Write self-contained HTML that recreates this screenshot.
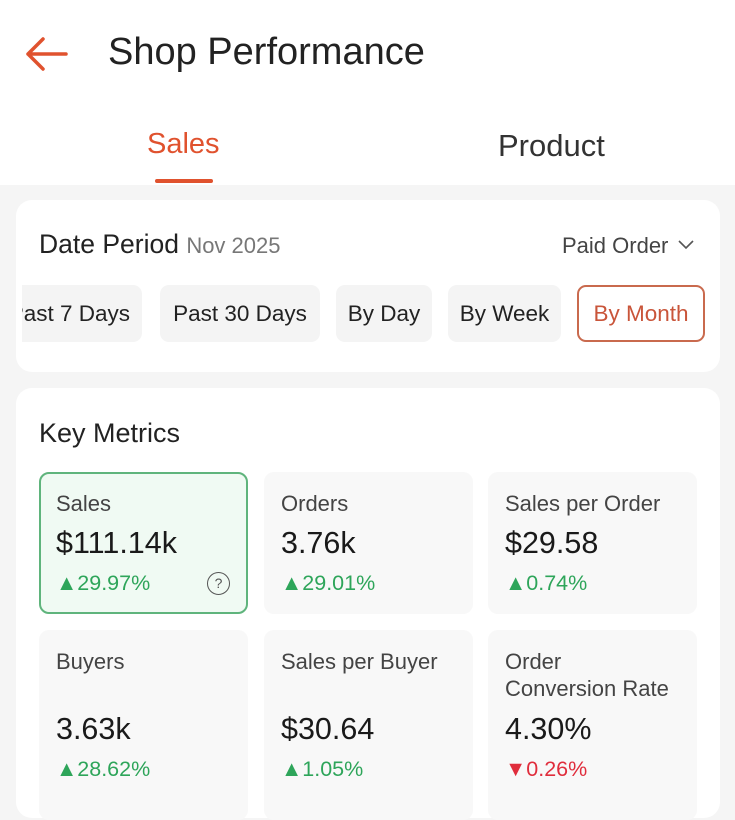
<!DOCTYPE html>
<html><head><meta charset="utf-8"><style>
*{margin:0;padding:0;box-sizing:border-box}
body{width:735px;height:800px;overflow:hidden;background:#f5f5f5;font-family:"Liberation Sans",Roboto,sans-serif;position:relative;color:#222}
.a{position:absolute;white-space:nowrap}
.card{position:absolute;left:16px;width:704px;background:#fff;border-radius:16px}
.chip{position:absolute;top:285px;height:57px;background:#f4f4f4;border-radius:9px;font-size:22.5px;color:#222;display:flex;align-items:center;justify-content:center}
.tile{position:absolute;width:209px;height:142px;background:#f8f8f8;border-radius:10px}
.tile .l{position:absolute;left:17px;top:18px;font-size:22px;color:#444;line-height:27px}
.tile .v{position:absolute;left:17px;top:54px;font-size:30.5px;color:#1a1a1a}
.tile .p{position:absolute;left:17px;top:99px;font-size:21.5px;color:#2ea55a}
.p.r{color:#e02d3c}
</style></head><body>
<div class="a" style="left:0;top:0;width:735px;height:185px;background:#fff"></div>
<svg class="a" style="left:24px;top:36px" width="44" height="36" viewBox="0 0 44 36"><path d="M42 18H4M19 3L4 18l15 15" fill="none" stroke="#e0522e" stroke-width="3.5" stroke-linecap="round" stroke-linejoin="round"/></svg>
<div class="a" style="left:108px;top:31px;font-size:38px;color:#222">Shop Performance</div>
<div class="a" style="left:147px;top:128px;font-size:29px;color:#e0522e">Sales</div>
<div class="a" style="left:155px;top:179px;width:58px;height:4px;background:#e0522e;border-radius:2px"></div>
<div class="a" style="left:498px;top:128px;font-size:31px;color:#333">Product</div>

<div class="card" style="top:200px;height:172px"></div>
<div class="a" style="left:39px;top:229px;font-size:26.5px;color:#222">Date Period <span style="font-size:22px;color:#777">Nov 2025</span></div>
<div class="a" style="left:562px;top:233px;font-size:22px;color:#444">Paid Order</div>
<svg class="a" style="left:677px;top:239px" width="18" height="12"><path d="M2 2l7 7 7-7" fill="none" stroke="#555" stroke-width="1.6"/></svg>
<div class="a" style="left:22px;top:280px;width:130px;height:70px;overflow:hidden">
<div class="chip" style="left:-40px;top:5px;width:160px;justify-content:flex-end;padding-right:12px">Past 7 Days</div></div>
<div class="chip" style="left:160px;width:160px">Past 30 Days</div>
<div class="chip" style="left:336px;width:96px">By Day</div>
<div class="chip" style="left:448px;width:113px">By Week</div>
<div class="chip" style="left:577px;width:128px;background:#fff;border:2px solid #c96a4e;color:#c9553a">By Month</div>

<div class="card" style="top:388px;height:430px"></div>
<div class="a" style="left:39px;top:418px;font-size:27px;color:#222">Key Metrics</div>

<div class="tile" style="left:39px;top:472px;background:#f0faf3;border:2px solid #5fb47c"><div class="l" style="left:15px;top:16px">Sales</div><div class="v" style="left:15px;top:52px">$111.14k</div><div class="p" style="left:15px;top:97px">▲29.97%</div>
<div style="position:absolute;left:166px;top:98px;width:23px;height:23px;border:1.5px solid #555;border-radius:50%;font-size:14px;color:#555;text-align:center;line-height:20px">?</div></div>
<div class="tile" style="left:264px;top:472px"><div class="l">Orders</div><div class="v">3.76k</div><div class="p">▲29.01%</div></div>
<div class="tile" style="left:488px;top:472px"><div class="l">Sales per Order</div><div class="v">$29.58</div><div class="p">▲0.74%</div></div>
<div class="tile" style="left:39px;top:630px;height:190px"><div class="l">Buyers</div><div class="v" style="top:82px">3.63k</div><div class="p" style="top:127px">▲28.62%</div></div>
<div class="tile" style="left:264px;top:630px;height:190px"><div class="l">Sales per Buyer</div><div class="v" style="top:82px">$30.64</div><div class="p" style="top:127px">▲1.05%</div></div>
<div class="tile" style="left:488px;top:630px;height:190px"><div class="l">Order<br>Conversion Rate</div><div class="v" style="top:82px">4.30%</div><div class="p r" style="top:127px">▼0.26%</div></div>
</body></html>
